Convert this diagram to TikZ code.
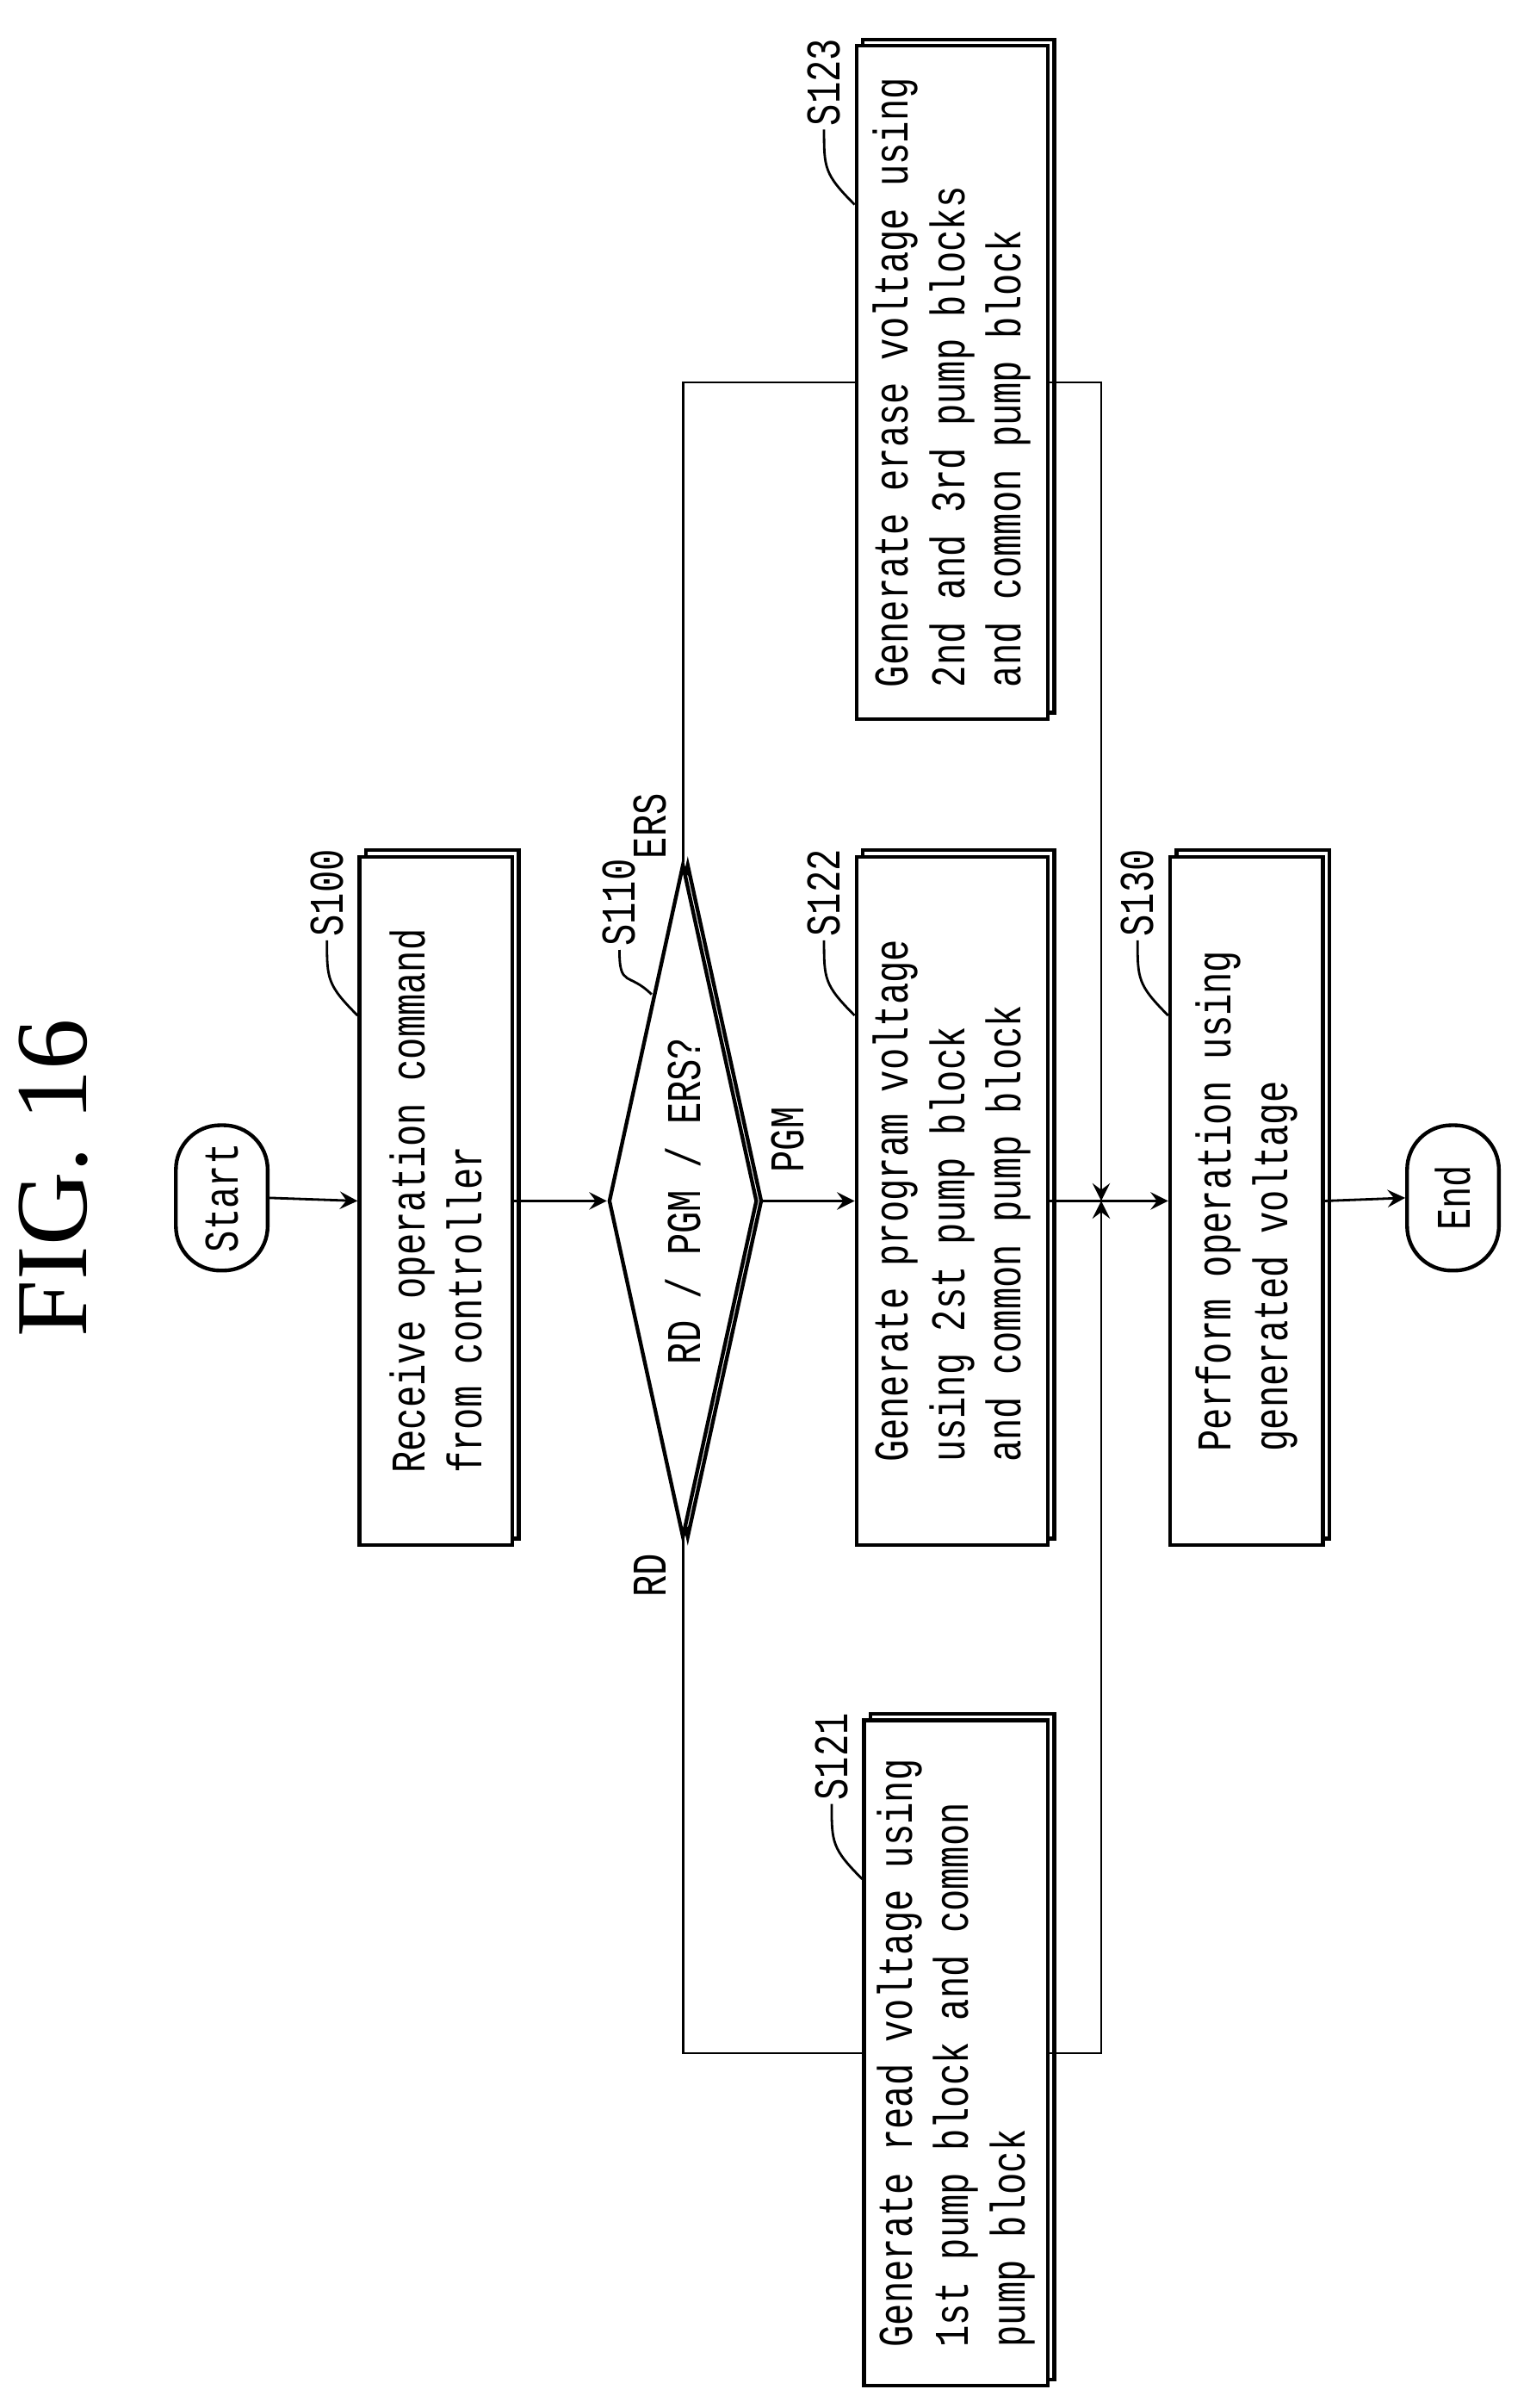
\documentclass[tikz,border=0pt]{standalone}
\usepackage{fontspec}
\setmainfont{Liberation Serif}
\setmonofont{Liberation Mono}[FakeStretch=0.75]
\usetikzlibrary{positioning,shapes.geometric,shadows,calc}

\tikzset{
  every node/.style={font=\ttfamily\fontsize{9}{10.5}\selectfont},
  stepbox/.style={rectangle,draw,line width=0.7pt,fill=white,rotate=90,align=left,
    inner sep=0pt,copy shadow={shadow xshift=1.2pt,shadow yshift=1.2pt}},
  termbox/.style={rectangle,draw,line width=0.7pt,rounded corners=0.29cm,rotate=90,
    minimum width=0.95cm,minimum height=0.6cm,inner sep=0pt},
  decision/.style={diamond,draw,line width=0.7pt,fill=white,rotate=90,aspect=4.5,inner sep=0pt,
    minimum width=4.4cm,minimum height=0.97cm,copy shadow={shadow xshift=0.9pt,shadow yshift=0pt}},
  steplabel/.style={rotate=90,inner sep=0.5pt},
  branch/.style={rotate=90,inner sep=0pt},
  flow/.style={line width=0.45pt},
}

\begin{document}
\begin{tikzpicture}[>=stealth]
\useasboundingbox (0,0) rectangle (10,-15.74);

\node[rotate=90,font=\rmfamily\fontsize{19}{19}\selectfont] (title) at (0.35,-7.7) {FIG. 16};

% nodes
\node[termbox] (start) at (1.45,-7.83) {Start};
\node[stepbox,minimum width=4.5cm,minimum height=1.0cm] (s100) at (2.85,-7.85)
  {Receive operation command\\from controller};
\node[decision] (s110) at (4.465,-7.85) {RD / PGM / ERS?};
\node[stepbox,minimum width=4.35cm,minimum height=1.2cm] (s121) at (6.25,-13.42)
  {Generate read voltage using\\1st pump block and common\\pump block};
\node[stepbox,minimum width=4.5cm,minimum height=1.25cm] (s122) at (6.225,-7.85)
  {Generate program voltage\\using 2st pump block\\and common pump block};
\node[stepbox,minimum width=4.4cm,minimum height=1.25cm] (s123) at (6.225,-2.5)
  {Generate erase voltage using\\2nd and 3rd pump blocks\\and common pump block};
\node[stepbox,minimum width=4.5cm,minimum height=1.0cm] (s130) at (8.15,-7.85)
  {Perform operation using\\generated voltage};
\node[termbox] (end) at (9.5,-7.83) {End};

\coordinate (merge) at (7.2,-7.85);

% branch labels
\node[branch] (rd) at (4.25,-10.3) {RD};
\node[branch] (pgm) at (5.15,-7.45) {PGM};
\node[branch] (ers) at (4.25,-5.4) {ERS};

% step labels
\foreach \stp/\txt in {s100/S100,s121/S121,s122/S122,s123/S123,s130/S130}{
  \node[steplabel] (l\stp) at ($(\stp.north east)+(-0.2,-0.25)$) {\txt};
  \draw[flow] (l\stp.west) .. controls +(0,-0.25) and +(-0.2,0.2) .. ($(\stp.north east)+(0,-1.05)$);
}
\node[steplabel] (ls110) at (4.05,-5.9) {S110};
\draw[flow] (ls110.west) .. controls +(0,-0.25) and +(-0.15,0.15) .. (4.26,-6.5);

% connectors
\draw[flow,->] (start.south) -- (s100.north);
\draw[flow,->] (s100.south) -- (s110.north);
\draw[flow,->] (s110.south) -- (s122.north);
\draw[flow,->] (s122.south) -- (s130.north);
\draw[flow] (s110.west) |- (s121.north);
\draw[flow] (s110.east) |- (s123.north);
\draw[flow,->] (s121.south) -| (merge);
\draw[flow,->] (s123.south) -| (merge);
\draw[flow,->] (s130.south) -- (end.north);
\end{tikzpicture}
\end{document}
